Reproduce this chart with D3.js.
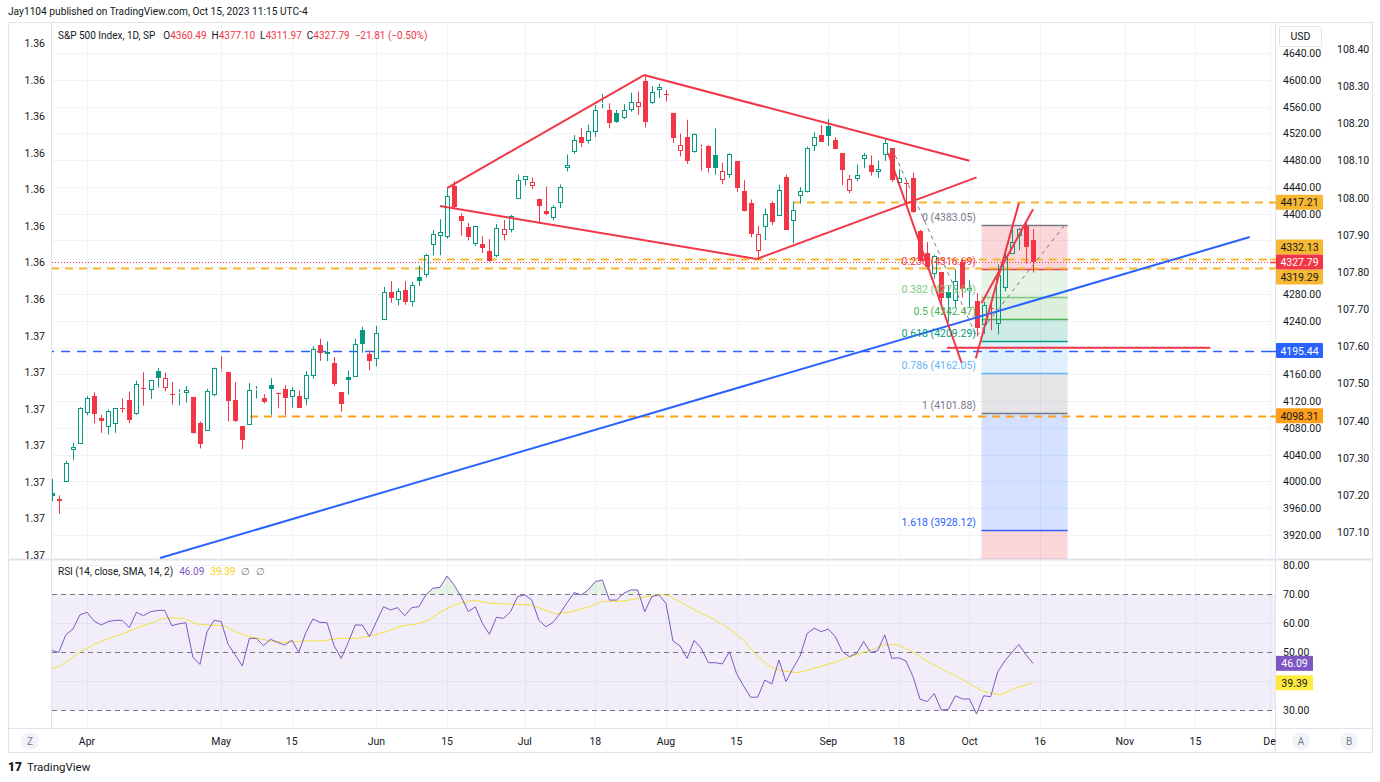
<!DOCTYPE html>
<html><head><meta charset="utf-8">
<script src="https://cdn.jsdelivr.net/npm/d3@7"></script>
<style>body{margin:0;background:#fff;overflow:hidden}text{font-family:Roboto,"Liberation Sans",sans-serif;}</style>
</head><body><svg id="c" width="1380" height="782"></svg>
<script>
// ---------------- DATA ----------------
const dates = ["03-27","03-28","03-29","03-30","03-31",
"04-03","04-04","04-05","04-06","04-10","04-11","04-12","04-13","04-14","04-17","04-18","04-19","04-20","04-21","04-24","04-25","04-26","04-27","04-28",
"05-01","05-02","05-03","05-04","05-05","05-08","05-09","05-10","05-11","05-12","05-15","05-16","05-17","05-18","05-19","05-22","05-23","05-24","05-25","05-26","05-30","05-31",
"06-01","06-02","06-05","06-06","06-07","06-08","06-09","06-12","06-13","06-14","06-15","06-16","06-20","06-21","06-22","06-23","06-26","06-27","06-28","06-29","06-30",
"07-03","07-05","07-06","07-07","07-10","07-11","07-12","07-13","07-14","07-17","07-18","07-19","07-20","07-21","07-24","07-25","07-26","07-27","07-28","07-31",
"08-01","08-02","08-03","08-04","08-07","08-08","08-09","08-10","08-11","08-14","08-15","08-16","08-17","08-18","08-21","08-22","08-23","08-24","08-25","08-28","08-29","08-30","08-31",
"09-01","09-05","09-06","09-07","09-08","09-11","09-12","09-13","09-14","09-15","09-18","09-19","09-20","09-21","09-22","09-25","09-26","09-27","09-28","09-29",
"10-02","10-03","10-04","10-05","10-06","10-09","10-10","10-11","10-12","10-13"];
const opens = [3982.93,3974.13,3999.53,4046.74,4056.18,
4102.20,4128.03,4094.50,4081.15,4085.20,4110.29,4121.72,4100.04,4140.11,4137.17,4164.26,4139.33,4130.48,4132.14,4132.07,4126.43,4087.78,4075.29,4129.63,
4166.79,4164.10,4122.25,4082.61,4084.73,4136.98,4124.25,4143.74,4132.24,4138.54,4126.65,4127.95,4122.85,4157.68,4204.15,4190.78,4176.80,4132.96,4155.71,4156.16,4226.71,4190.74,
4183.03,4241.01,4282.99,4271.34,4285.47,4268.69,4304.88,4308.32,4352.61,4366.29,4365.33,4440.95,4396.11,4380.01,4355.40,4354.17,4344.84,4337.36,4367.48,4374.94,4422.44,
4450.48,4442.04,4422.62,4404.54,4394.23,4415.55,4467.69,4491.50,4514.61,4508.86,4521.78,4563.87,4554.38,4550.16,4543.39,4555.19,4558.96,4598.26,4565.75,4584.82,
4578.83,4550.93,4494.27,4513.96,4491.58,4498.03,4501.57,4487.16,4450.69,4458.13,4478.87,4433.79,4416.32,4344.88,4380.28,4415.33,4396.44,4455.16,4389.38,4426.03,4432.75,4500.34,4517.01,
4530.60,4510.06,4490.35,4434.55,4451.30,4480.98,4473.27,4462.65,4487.78,4497.98,4445.13,4445.41,4452.81,4374.36,4341.74,4310.62,4312.88,4282.63,4269.65,4328.18,
4284.52,4269.75,4233.83,4259.31,4234.79,4289.02,4339.75,4366.59,4380.94,4360.49];
const highs = [4003.83,3979.20,4030.59,4057.85,4110.75,
4127.66,4133.13,4099.69,4107.32,4109.50,4124.26,4134.37,4150.26,4163.19,4151.72,4169.48,4162.57,4148.57,4138.02,4142.41,4126.43,4089.67,4138.24,4170.06,
4186.92,4164.10,4148.30,4082.61,4147.02,4142.30,4130.35,4154.28,4132.80,4143.74,4141.25,4135.54,4164.67,4202.20,4212.91,4209.22,4185.68,4132.96,4165.74,4212.87,4231.10,4195.44,
4232.43,4290.67,4299.28,4288.33,4299.19,4298.01,4322.62,4340.13,4375.37,4391.82,4439.20,4448.47,4400.15,4386.22,4382.25,4366.55,4362.06,4384.42,4390.35,4398.39,4458.48,
4456.46,4454.06,4422.62,4440.39,4412.60,4443.64,4488.34,4517.38,4527.76,4532.85,4562.30,4578.43,4564.74,4555.00,4563.41,4580.62,4582.47,4607.07,4590.16,4594.22,
4584.62,4550.93,4519.49,4540.34,4519.84,4503.31,4502.44,4527.37,4476.23,4490.33,4478.87,4449.95,4421.17,4381.82,4407.55,4418.59,4443.18,4458.30,4418.46,4439.56,4500.14,4521.65,4532.26,
4541.25,4514.29,4490.35,4457.81,4473.53,4490.77,4487.11,4479.39,4511.99,4497.98,4466.36,4449.85,4461.03,4375.70,4357.40,4338.51,4313.01,4292.07,4317.27,4333.15,
4300.58,4281.15,4268.50,4267.13,4324.10,4341.73,4385.46,4378.64,4385.85,4377.10];
const lows = [3970.47,3951.53,3999.53,4032.10,4056.18,
4098.79,4086.87,4072.56,4069.84,4072.55,4102.61,4086.94,4099.40,4113.20,4123.18,4140.36,4134.49,4114.57,4113.86,4117.77,4071.38,4049.35,4075.29,4127.18,
4164.12,4089.72,4088.86,4048.28,4084.73,4123.81,4116.65,4098.92,4109.29,4099.12,4110.27,4109.86,4113.62,4153.50,4180.20,4179.68,4142.54,4103.98,4129.73,4156.16,4192.18,4166.15,
4171.64,4241.01,4266.82,4263.09,4263.96,4261.07,4291.70,4304.37,4337.71,4337.85,4362.60,4407.44,4367.19,4360.14,4351.82,4341.34,4328.08,4335.00,4360.22,4371.97,4422.44,
4442.29,4436.61,4385.05,4397.40,4389.92,4408.46,4463.23,4489.36,4499.56,4504.90,4514.59,4557.48,4527.56,4535.79,4541.29,4552.42,4547.58,4528.56,4564.01,4573.14,
4567.53,4505.75,4485.54,4474.55,4491.15,4464.39,4461.33,4457.92,4443.98,4453.44,4432.19,4403.55,4364.83,4335.31,4360.30,4382.77,4396.44,4375.55,4356.29,4414.98,4431.68,4493.59,4507.39,
4501.35,4496.01,4442.38,4430.46,4448.38,4467.89,4456.83,4453.52,4478.69,4447.21,4442.11,4416.61,4401.38,4329.17,4316.49,4302.70,4265.98,4238.63,4260.21,4274.86,
4260.21,4216.45,4220.48,4225.91,4219.55,4283.79,4339.64,4345.34,4325.43,4311.97];
const closes = [3977.53,3971.27,4027.81,4050.83,4109.31,
4124.51,4100.60,4090.38,4105.02,4109.11,4108.94,4091.95,4146.22,4137.64,4151.32,4154.87,4154.52,4129.79,4133.52,4137.04,4071.63,4055.99,4135.35,4169.48,
4167.87,4119.58,4090.75,4061.22,4136.25,4138.12,4119.17,4137.64,4130.62,4124.08,4136.28,4109.90,4158.77,4198.05,4191.98,4192.63,4145.58,4115.24,4151.28,4205.45,4205.52,4179.83,
4221.02,4282.37,4273.79,4283.85,4267.52,4293.93,4298.86,4338.93,4369.01,4372.59,4425.84,4409.59,4388.71,4365.69,4381.89,4348.33,4328.82,4378.41,4376.86,4396.44,4450.38,
4455.59,4446.82,4411.59,4398.95,4409.53,4439.26,4472.16,4510.04,4505.42,4522.79,4554.98,4565.72,4534.87,4536.34,4554.64,4567.46,4566.75,4537.41,4582.23,4588.96,
4576.73,4513.39,4501.89,4478.03,4518.44,4499.38,4467.71,4468.83,4464.05,4489.72,4437.86,4404.33,4370.36,4369.71,4399.77,4387.55,4436.01,4376.31,4405.71,4433.31,4497.63,4514.87,4507.66,
4515.77,4496.83,4465.48,4451.14,4457.49,4487.46,4461.90,4467.44,4505.10,4450.32,4453.53,4443.95,4402.20,4330.00,4320.06,4337.44,4273.53,4274.51,4299.70,4288.05,
4288.39,4229.45,4263.75,4258.19,4308.50,4335.66,4358.24,4376.95,4349.61,4327.79];
const prevCloseBefore = 3970.99;
const legendChange = "\u221221.81 (\u22120.50%)";

// RSI (14) per bar
const rsiValues = [50.5,49.9,55.9,57.9,62.8,63.7,60.7,59.3,60.5,60.9,60.9,58.4,63.7,62.5,63.9,64.3,64.4,59.1,59.7,60.1,
48.2,45.7,57.0,60.9,60.5,52.6,49.0,45.2,54.7,54.7,52.2,54.4,53.3,52.4,54.1,49.9,56.7,61.4,60.2,60.1,
52.2,47.8,53.3,59.3,59.3,55.3,60.5,65.6,64.5,65.3,62.5,65.3,65.6,69.7,72.0,72.3,76.2,73.1,69.1,63.9,
65.6,59.9,56.1,62.0,61.6,63.9,69.1,69.7,67.9,61.0,58.7,60.2,63.3,67.0,70.5,69.7,71.4,74.3,74.8,67.9,
67.9,70.2,71.4,71.4,63.9,69.1,69.7,66.8,53.8,52.1,47.8,54.0,51.3,46.3,46.3,45.9,50.1,42.6,38.3,34.4,
34.4,40.3,39.0,47.2,39.8,44.4,48.6,56.4,58.2,57.0,57.9,55.3,50.1,48.4,49.5,53.6,49.8,50.5,55.9,47.8,
48.0,46.9,41.5,33.7,32.9,35.7,30.0,30.2,34.9,33.8,33.8,28.6,34.9,34.6,43.2,46.9,49.9,52.6,49.0,46.09];
// RSI-based SMA, read at these bar positions
const smaBars = [0,1,2.3,4.1,6,8,10,12,14,15.5,17,18.6,20.5,22.4,24.3,26.2,28,30.6,33,35.7,38.2,40.7,43.3,45.8,47.7,49.6,52.1,53.4,55.3,57.2,59.7,62.2,65.4,68,69.8,71.4,73.6,76.2,78,81.2,83.7,86.3,87.5,89,91.5,94,96,98,99.8,101.7,103.6,105.8,108,110.5,113.1,115.6,118.1,120,121.9,124.5,127,129.5,132,134.3,136.5,139];
const smaValues = [44.4,45.0,46.9,50.1,52.6,54.7,56.2,58.2,59.9,61.4,61.8,61.6,59.7,59.3,59.1,56.8,55.3,54.0,53.3,53.8,53.8,54.7,54.7,55.9,57.2,59.0,59.8,61.0,64.1,66.4,67.8,66.8,66.4,66.2,64.5,63.1,63.9,65.6,67.4,67.6,68.9,69.9,69.3,67.2,64.0,61.0,57.9,54.1,49.0,44.9,43.4,42.9,44.4,46.1,48.4,50.3,52.6,52.4,50.1,46.1,43.0,39.8,36.3,35.2,37.5,39.39];

// axes
const priceTicks = [3920,3960,4000,4040,4080,4120,4160,4200,4240,4280,4320,4360,4400,4440,4480,4520,4560,4600,4640];
const rightTicks2 = [107.10,107.20,107.30,107.40,107.50,107.60,107.70,107.80,107.90,108.00,108.10,108.20,108.30,108.40];
const leftTickLabels = ["1.36","1.36","1.36","1.36","1.36","1.36","1.36","1.36","1.37","1.37","1.37","1.37","1.37","1.37","1.37"];
const timeTickLabels = ["Apr","May","15","Jun","15","Jul","18","Aug","15","Sep","18","Oct","16","Nov","15","De"];
const timeTickBars = [5,24,34,46,56,67,77,87,97,110,120,130,140,152,162,172.5];
const rsiTicks = [30,40,50,60,70,80];

// drawings (bar index, price)
const redLines = [
  [56.0,4438.3,83.9,4607.1],[83.9,4607.1,130.0,4479.1],
  [55.0,4411.4,99.86,4332.3],[99.86,4332.3,131.0,4454.3],
  [118.5,4490.2,128.9,4176.5],[130.9,4183.9,137.0,4416.0],[131.7,4266.1,139.0,4406.5],
  [126.8,4199.8,164.1,4199.8]];
const blueLine = [15.34,3885.6,169.7,4365.1];
const hLinePrices = [4417.21,4332.13,4319.29,4098.31,4195.44];
const hLineFrom = [105,52,-10,28.1,-10];
const lastPrice = 4327.79;
const fibPoints = [[119,4497.98],[131,4216.45],[143.5,4383.05]];
const fibRatios = ["0","0.236","0.382","0.5","0.618","0.786","1","1.618"];
const fibPrices = [4383.05,4316.69,4275.64,4242.47,4209.29,4162.05,4101.88,3928.12];
const fibBox = [131.7,143.9];

// ---------------- STYLE / LAYOUT ----------------
const GREEN="#089981", RED="#f23645", BLUE="#2962ff", AMBER="#f7b731", ORANGE="#ff9f1a", TXT="#131722", GRID="#f0f3fa", BORDER="#e0e3eb";
const fibColors = ["#787b86","#f23645","#81c784","#4caf50","#089981","#64b5f6","#787b86","#2962ff","#f23645"];
const hLineColors = [AMBER,AMBER,AMBER,ORANGE,BLUE];
const L=52, R=1275, PT=22, PB=559, RT=560, RB=728;

const svg = d3.select("#c");
svg.append("rect").attr("width",1380).attr("height",782).attr("fill","#fff");
const x = d3.scaleLinear().domain([5,140]).range([87,1040.1]);
const y = d3.scaleLinear().domain([3920,4640]).range([535,53]);
const ry = d3.scaleLinear().domain([30,80]).range([710,565]);
const yLeft = d3.scaleLinear().domain([0,14]).range([43,555]);
const y2 = d3.scaleLinear().domain([107.10,108.40]).range([532,49]);

const defs = svg.append("defs");
defs.append("clipPath").attr("id","cp").append("rect").attr("x",L).attr("y",PT).attr("width",R-L).attr("height",PB-PT);
defs.append("clipPath").attr("id","cr").append("rect").attr("x",L).attr("y",RT).attr("width",R-L).attr("height",RB-RT);
defs.append("clipPath").attr("id","cOB").append("rect").attr("x",L).attr("y",RT).attr("width",R-L).attr("height",ry(70)-RT);
defs.append("clipPath").attr("id","cOS").append("rect").attr("x",L).attr("y",ry(30)).attr("width",R-L).attr("height",RB-ry(30));

// header
svg.append("text").attr("x",8).attr("y",15).attr("font-size",10.2).attr("fill",TXT).text("Jay1104 published on TradingView.com, Oct 15, 2023 11:15 UTC-4");

// grid
const grid = svg.append("g");
priceTicks.forEach(p=>grid.append("line").attr("x1",L).attr("x2",R).attr("y1",Math.round(y(p))+0.5).attr("y2",Math.round(y(p))+0.5).attr("stroke",GRID));
[40,60,80].forEach(v=>grid.append("line").attr("x1",L).attr("x2",R).attr("y1",Math.round(ry(v))+0.5).attr("y2",Math.round(ry(v))+0.5).attr("stroke",GRID));
timeTickBars.forEach(b=>{const xx=Math.round(x(b))+0.5; if(xx<R){
  grid.append("line").attr("x1",xx).attr("x2",xx).attr("y1",PT).attr("y2",PB).attr("stroke",GRID);
  grid.append("line").attr("x1",xx).attr("x2",xx).attr("y1",RT).attr("y2",RB).attr("stroke",GRID);}});

// frame
const fr = svg.append("g").attr("fill","none").attr("stroke",BORDER);
fr.append("rect").attr("x",8.5).attr("y",22.5).attr("width",1364).attr("height",730);
fr.append("line").attr("x1",8).attr("x2",1373).attr("y1",559.5).attr("y2",559.5).attr("stroke-width",2);
fr.append("line").attr("x1",8).attr("x2",1373).attr("y1",728.5).attr("y2",728.5);
fr.append("line").attr("x1",R+0.5).attr("x2",R+0.5).attr("y1",22).attr("y2",752);
fr.append("line").attr("x1",L-0.5).attr("x2",L-0.5).attr("y1",22).attr("y2",728);

// ---------- price pane ----------
const pp = svg.append("g").attr("clip-path","url(#cp)");

// fib fills
const fb = pp.append("g");
const bx0 = x(fibBox[0]), bx1 = x(fibBox[1]);
fibPrices.forEach((p,k)=>{
  const top = y(p);
  const bot = k<fibPrices.length-1 ? y(fibPrices[k+1]) : PB;
  fb.append("rect").attr("x",bx0).attr("width",bx1-bx0).attr("y",top).attr("height",bot-top)
    .attr("fill",fibColors[k+1]).attr("fill-opacity",0.2);
});
fibPrices.forEach((p,k)=>{
  fb.append("line").attr("x1",bx0).attr("x2",bx1).attr("y1",Math.round(y(p))+0.5).attr("y2",Math.round(y(p))+0.5).attr("stroke",fibColors[k]).attr("stroke-width",1.5);
});

// horizontal lines
hLinePrices.forEach((p,k)=>{
  const yy = Math.round(y(p))+0.5;
  pp.append("line").attr("x1",x(hLineFrom[k])).attr("x2",R).attr("y1",yy).attr("y2",yy)
    .attr("stroke",hLineColors[k]).attr("stroke-width",k<4?2.2:1.5).attr("stroke-dasharray",k<4?"8,6":"9,7");
});
pp.append("line").attr("x1",L).attr("x2",R).attr("y1",Math.round(y(lastPrice))+0.5).attr("y2",Math.round(y(lastPrice))+0.5)
  .attr("stroke",RED).attr("stroke-width",1).attr("stroke-dasharray","1,2");

// candles
const cg = pp.append("g");
dates.forEach((d,i)=>{
  const o=opens[i],h=highs[i],l=lows[i],c=closes[i];
  const prev = i===0?prevCloseBefore:closes[i-1];
  const col = c>=prev?GREEN:RED;
  const hollow = c>o;
  const xc = Math.round(x(i))+0.5;
  const yt = Math.round(y(Math.max(o,c))), yb = Math.max(Math.round(y(Math.min(o,c))), yt+1);
  if(hollow){
    cg.append("line").attr("x1",xc).attr("x2",xc).attr("y1",y(h)).attr("y2",yt).attr("stroke",col);
    cg.append("line").attr("x1",xc).attr("x2",xc).attr("y1",yb).attr("y2",y(l)).attr("stroke",col);
    cg.append("rect").attr("x",xc-2).attr("y",yt+0.5).attr("width",4).attr("height",Math.max(yb-yt-1,0)).attr("fill","none").attr("stroke",col);
  } else {
    cg.append("line").attr("x1",xc).attr("x2",xc).attr("y1",y(h)).attr("y2",y(l)).attr("stroke",col);
    cg.append("rect").attr("x",xc-2.5).attr("y",yt).attr("width",5).attr("height",yb-yt).attr("fill",col);
  }
});

// trend lines
const lg = pp.append("g");
lg.append("line").attr("x1",x(blueLine[0])).attr("y1",y(blueLine[1])).attr("x2",x(blueLine[2])).attr("y2",y(blueLine[3])).attr("stroke",BLUE).attr("stroke-width",2);
redLines.forEach(s=>lg.append("line").attr("x1",x(s[0])).attr("y1",y(s[1])).attr("x2",x(s[2])).attr("y2",y(s[3])).attr("stroke",RED).attr("stroke-width",2));
lg.append("path").attr("d",d3.line().x(d=>x(d[0])).y(d=>y(d[1]))(fibPoints)).attr("fill","none").attr("stroke","#787b86").attr("stroke-width",1).attr("stroke-dasharray","4,4");
fibPrices.forEach((p,k)=>{
  pp.append("text").attr("x",976).attr("y",y(p)-4).attr("text-anchor","end").attr("font-size",10.5).attr("fill",fibColors[k])
    .text(`${fibRatios[k]} (${p.toFixed(2)})`);
});

// legend
const lgd = svg.append("text").attr("x",58).attr("y",39).attr("font-size",10).attr("fill",TXT);
lgd.append("tspan").text("S&P 500 Index, 1D, SP");
[["O",opens[139]],["H",highs[139]],["L",lows[139]],["C",closes[139]]].forEach((e,k)=>{
  lgd.append("tspan").attr("dx",k===0?8:5).text(e[0]);
  lgd.append("tspan").attr("fill",RED).text(e[1].toFixed(2));
});
lgd.append("tspan").attr("dx",5).attr("fill",RED).text(legendChange);

// left axis
leftTickLabels.forEach((t,k)=>svg.append("text").attr("x",45).attr("y",yLeft(k)+4).attr("text-anchor","end").attr("font-size",10.5).attr("fill",TXT).text(t));

// right axis price labels (boxes), resolved for overlap
const pl = hLinePrices.map((p,k)=>({p, y:y(p), bg:hLineColors[k], fg: k===4?"#fff":TXT}));
pl.push({p:lastPrice, y:y(lastPrice), bg:RED, fg:"#fff", fixed:true});
const fixedY = y(lastPrice);
pl.forEach(o=>{ if(!o.fixed && Math.abs(o.y-fixedY)<15){ o.y = o.y<fixedY? fixedY-15 : fixedY+15; } });

// right axis ticks (hidden where a label box sits)
priceTicks.forEach(p=>{ const yy=y(p); if(pl.some(o=>Math.abs(o.y-yy)<11)) return;
  svg.append("text").attr("x",1283).attr("y",yy+4).attr("font-size",10.5).attr("fill",TXT).text(p.toFixed(2)); });
rightTicks2.forEach(v=>svg.append("text").attr("x",1337).attr("y",y2(v)+4).attr("font-size",10.5).attr("fill",TXT).text(v.toFixed(2)));
svg.append("rect").attr("x",1279.5).attr("y",26.5).attr("width",42).attr("height",20).attr("rx",2).attr("fill","#fff").attr("stroke",BORDER);
svg.append("text").attr("x",1300.5).attr("y",40).attr("text-anchor","middle").attr("font-size",10.5).attr("fill",TXT).text("USD");

pl.forEach(o=>{
  svg.append("rect").attr("x",1276).attr("y",o.y-7.5).attr("width",47).attr("height",15).attr("rx",1).attr("fill",o.bg);
  svg.append("line").attr("x1",1270).attr("x2",1276).attr("y1",Math.round(y(o.p))+0.5).attr("y2",Math.round(y(o.p))+0.5).attr("stroke",o.bg).attr("stroke-width",1.5);
  svg.append("text").attr("x",1299.5).attr("y",o.y+4).attr("text-anchor","middle").attr("font-size",10.5).attr("fill",o.fg).text(o.p.toFixed(2));
});

// ---------- RSI pane ----------
const rp = svg.append("g").attr("clip-path","url(#cr)");
rp.append("rect").attr("x",L).attr("width",R-L).attr("y",ry(70)).attr("height",ry(30)-ry(70)).attr("fill","#7e57c2").attr("fill-opacity",0.1);
[70,50,30].forEach(v=>rp.append("line").attr("x1",L).attr("x2",R).attr("y1",Math.round(ry(v))+0.5).attr("y2",Math.round(ry(v))+0.5)
  .attr("stroke","#787b86").attr("stroke-dasharray","5,4"));
const rsiPts = rsiValues.map((v,i)=>[i,v]);
rp.append("path").attr("clip-path","url(#cOB)").attr("d",d3.area().x(d=>x(d[0])).y0(ry(70)).y1(d=>ry(d[1]))(rsiPts)).attr("fill","#4caf50").attr("fill-opacity",0.15);
rp.append("path").attr("clip-path","url(#cOS)").attr("d",d3.area().x(d=>x(d[0])).y0(ry(30)).y1(d=>ry(d[1]))(rsiPts)).attr("fill","#f23645").attr("fill-opacity",0.15);
rp.append("path").attr("d",d3.line().x((d,k)=>x(smaBars[k])).y(d=>ry(d))(smaValues)).attr("fill","none").attr("stroke","#f5e03a").attr("stroke-width",1);
rp.append("path").attr("d",d3.line().x(d=>x(d[0])).y(d=>ry(d[1]))(rsiPts)).attr("fill","none").attr("stroke","#7e57c2").attr("stroke-width",1);

const rl = svg.append("text").attr("x",58).attr("y",575).attr("font-size",10).attr("fill",TXT);
rl.append("tspan").text("RSI (14, close, SMA, 14, 2)");
rl.append("tspan").attr("dx",6).attr("fill","#7e57c2").text(rsiValues[139].toFixed(2));
rl.append("tspan").attr("dx",6).attr("fill","#f5d20a").text(smaValues[smaValues.length-1].toFixed(2));
rl.append("tspan").attr("dx",6).attr("fill","#787b86").text("\u2205");
rl.append("tspan").attr("dx",6).attr("fill","#787b86").text("\u2205");

const rsiBoxes = [[rsiValues[139],"#7e57c2","#fff"],[smaValues[smaValues.length-1],"#ffeb3b",TXT]];
rsiTicks.forEach(v=>{ if(rsiBoxes.some(b=>Math.abs(ry(b[0])-ry(v))<11)) return;
  svg.append("text").attr("x",1283).attr("y",ry(v)+4).attr("font-size",10.5).attr("fill",TXT).text(v.toFixed(2)); });
rsiBoxes.forEach(e=>{
  svg.append("rect").attr("x",1276).attr("y",ry(e[0])-7.5).attr("width",37).attr("height",15).attr("fill",e[1]);
  svg.append("text").attr("x",1294.5).attr("y",ry(e[0])+4).attr("text-anchor","middle").attr("font-size",10.5).attr("fill",e[2]).text(e[0].toFixed(2));
});

// time axis
timeTickLabels.forEach((t,k)=>svg.append("text").attr("x",x(timeTickBars[k])).attr("y",745).attr("text-anchor","middle").attr("font-size",10.5).attr("fill",TXT).text(t));
[["Z",30],["A",1301],["B",1349]].forEach(e=>{
  svg.append("circle").attr("cx",e[1]).attr("cy",741).attr("r",9).attr("fill","#f0f3fa");
  svg.append("text").attr("x",e[1]).attr("y",745).attr("text-anchor","middle").attr("font-size",10).attr("fill","#787b86").text(e[0]);
});

// footer logo
svg.append("text").attr("x",8).attr("y",771).attr("font-size",12).attr("font-weight",900).attr("fill",TXT).text("17");
svg.append("text").attr("x",27).attr("y",771).attr("font-size",11.5).attr("fill",TXT).text("TradingView");
</script></body></html>
